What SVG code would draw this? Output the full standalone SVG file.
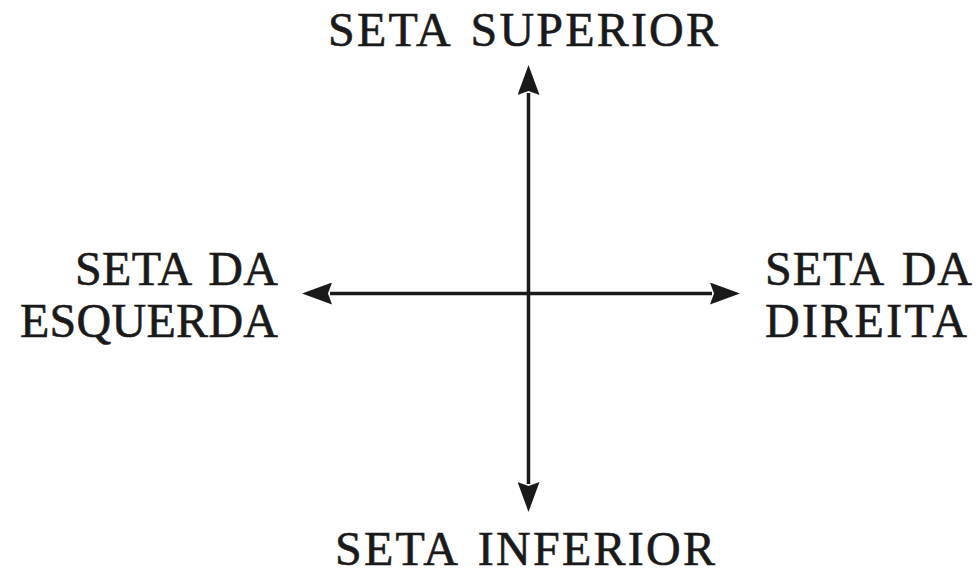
<svg xmlns="http://www.w3.org/2000/svg" width="980" height="576" viewBox="0 0 980 576">
  <style>
    .lbl { font-family: "Liberation Serif", "Times New Roman", serif; font-size: 48px; fill: #1a1a1a; stroke: #1a1a1a; stroke-width: 0.6; word-spacing: 6px; }
    .ax { stroke: #1a1a1a; stroke-width: 3.5; fill: none; }
  </style>
  <defs>
    <marker id="arr" markerUnits="userSpaceOnUse" viewBox="0 0 30 22" refX="2" refY="11" markerWidth="30" markerHeight="22" orient="auto">
      <path d="M0,0 L30,11 L0,22 L4,11 Z" fill="#1a1a1a"/>
    </marker>
  </defs>
  <rect width="980" height="576" fill="#ffffff"/>
  <g id="connectors">
    <line class="ax" x1="528.5" y1="293.5" x2="528.5" y2="93" marker-end="url(#arr)"/>
    <line class="ax" x1="528.5" y1="293.5" x2="528.5" y2="484" marker-end="url(#arr)"/>
    <line class="ax" x1="528.5" y1="293.5" x2="330" y2="293.5" marker-end="url(#arr)"/>
    <line class="ax" x1="528.5" y1="293.5" x2="712" y2="293.5" marker-end="url(#arr)"/>
  </g>
  <g id="top">
    <text class="lbl" x="328" y="46" textLength="390" lengthAdjust="spacing">SETA SUPERIOR</text>
  </g>
  <g id="left">
    <text class="lbl" x="75" y="285" textLength="203" lengthAdjust="spacing">SETA DA</text>
    <text class="lbl" x="20" y="337" textLength="258" lengthAdjust="spacing">ESQUERDA</text>
  </g>
  <g id="right">
    <text class="lbl" x="765" y="285" textLength="207" lengthAdjust="spacing">SETA DA</text>
    <text class="lbl" x="765" y="337" textLength="202" lengthAdjust="spacing">DIREITA</text>
  </g>
  <g id="bottom">
    <text class="lbl" x="335" y="565" textLength="380" lengthAdjust="spacing">SETA INFERIOR</text>
  </g>
</svg>
